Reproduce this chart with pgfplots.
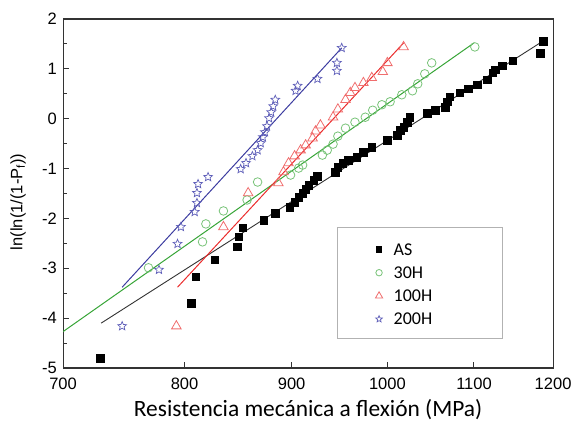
\documentclass[border=0pt]{standalone}
\usepackage{fontspec}
\usepackage{pgfplots}
\pgfplotsset{compat=1.18}
\setmainfont{Liberation Sans}
\newfontfamily\calibri{Carlito}

\definecolor{asline}{RGB}{50,50,50}
\definecolor{gmark}{RGB}{120,195,120}
\definecolor{gline}{RGB}{55,165,55}
\definecolor{rmark}{RGB}{240,110,110}
\definecolor{rline}{RGB}{235,45,45}
\definecolor{bmark}{RGB}{95,95,185}
\definecolor{bline}{RGB}{60,60,160}

% hollow five-point star
\pgfdeclareplotmark{ostar}{%
  \pgfpathmoveto{\pgfpointpolar{90}{\pgfplotmarksize}}%
  \pgfpathlineto{\pgfpointpolar{126}{0.45\pgfplotmarksize}}%
  \pgfpathlineto{\pgfpointpolar{162}{\pgfplotmarksize}}%
  \pgfpathlineto{\pgfpointpolar{198}{0.45\pgfplotmarksize}}%
  \pgfpathlineto{\pgfpointpolar{234}{\pgfplotmarksize}}%
  \pgfpathlineto{\pgfpointpolar{270}{0.45\pgfplotmarksize}}%
  \pgfpathlineto{\pgfpointpolar{306}{\pgfplotmarksize}}%
  \pgfpathlineto{\pgfpointpolar{342}{0.45\pgfplotmarksize}}%
  \pgfpathlineto{\pgfpointpolar{18}{\pgfplotmarksize}}%
  \pgfpathlineto{\pgfpointpolar{54}{0.45\pgfplotmarksize}}%
  \pgfpathclose
  \pgfusepathqstroke
}

\begin{document}
\begin{tikzpicture}
\begin{axis}[
    at={(0pt,0pt)}, anchor=south west,
    scale only axis, width=490pt, height=349pt,
    xmode=log, xmin=700, xmax=1200, ymin=-5, ymax=2,
    xtick={700,800,900,1000,1100,1200},
    xticklabels={700,800,900,1000,1100,1200},
    minor xtick={},
    ytick={-5,-4,-3,-2,-1,0,1,2},
    yticklabels={-5,-4,-3,-2,-1,0,1,2},
    minor ytick={-4.5,-3.5,-2.5,-1.5,-0.5,0.5,1.5},
    tick pos=left, tick align=inside,
    major tick length=6pt, minor tick length=4pt,
    axis line style={black!80, line width=1.1pt},
    tick style={black!80, line width=1pt},
    tick label style={font=\fontsize{16.5}{19}\selectfont, inner sep=1pt},
    xticklabel style={yshift=-9pt},
    yticklabel style={xshift=-5pt},
    xlabel={Resistencia mecánica a flexión (MPa)},
    xlabel style={at={([yshift=-49pt]axis description cs:0.5,0)}, anchor=base,
                  font=\calibri\fontsize{23.4}{27}\selectfont},
    ylabel={ln(ln(1/(1-P\textsubscript{f}))},
    ylabel style={at={([xshift=-45pt]axis description cs:0,0.476)}, anchor=center,
                  font=\fontsize{16.5}{19}\selectfont},
    legend style={at={(0.559,0.404)}, anchor=north west,
                  draw=black!30, line width=1pt, fill=white,
                  font=\calibri\fontsize{18}{21}\selectfont,
                  inner xsep=38pt, inner ysep=8.9pt, row sep=0pt,
                  nodes={inner xsep=3pt, inner ysep=2.65pt, text height=16.25pt, text depth=1.65pt},
                  /tikz/every odd column/.append style={column sep=8pt}},
    legend cell align=left,
    legend image post style={mark options={scale=0.75}, yshift=-1.5pt},
]
% AS
\addplot[only marks, mark=square*, mark size=3.8pt, black] coordinates {
  (729,-4.80) (806,-3.70) (810,-3.17) (827,-2.83) (848,-2.57) (849,-2.37)
  (853,-2.19) (873,-2.03) (884,-1.89) (898,-1.77) (903,-1.67) (907,-1.57)
  (911,-1.49) (914,-1.41) (917,-1.33) (922,-1.23) (926,-1.15) (944,-1.07)
  (947,-0.97) (952,-0.89) (958,-0.83) (967,-0.77) (974,-0.67) (983,-0.57)
  (1000,-0.43) (1011,-0.33) (1014,-0.23) (1018,-0.17) (1022,-0.07) (1025,0.03)
  (1045,0.11) (1054,0.17) (1066,0.23) (1068,0.34) (1071,0.44) (1083,0.52)
  (1093,0.60) (1104,0.68) (1116,0.78) (1123,0.92) (1126,0.98) (1135,1.06)
  (1148,1.16) (1183,1.32) (1187,1.56)
};
\addlegendentry{\makebox[68pt][l]{AS}}
% 30H
\addplot[only marks, mark=o, mark size=4.3pt, gmark, line width=0.8pt] coordinates {
  (769,-2.99) (816,-2.47) (819,-2.11) (835,-1.85) (857,-1.63) (867,-1.27)
  (899,-1.13) (907,-0.99) (911,-0.93) (931,-0.73) (936,-0.63) (942,-0.51)
  (947,-0.35) (955,-0.19) (965,-0.07) (976,0.03) (984,0.17) (994,0.28)
  (1003,0.34) (1016,0.48) (1028,0.56) (1034,0.70) (1042,0.90) (1050,1.12)
  (1101,1.44)
};
\addlegendentry{\makebox[68pt][l]{30H}}
% 100H
\addplot[only marks, mark=triangle, mark size=5.5pt, rmark, line width=0.8pt] coordinates {
  (793,-4.16) (835,-2.17) (858,-1.49) (887,-1.29) (892,-1.07) (897,-0.89)
  (903,-0.75) (909,-0.63) (914,-0.53) (921,-0.39) (924,-0.25) (929,-0.13)
  (942,0.03) (947,0.19) (955,0.38) (960,0.52) (965,0.62) (974,0.72)
  (983,0.82) (995,0.94) (1000,1.12) (1018,1.44)
};
\addlegendentry{\makebox[68pt][l]{100H}}
% 200H
\addplot[only marks, mark=ostar, mark size=4.6pt, bmark, line width=0.7pt] coordinates {
  (747,-4.16) (778,-3.03) (794,-2.51) (797,-2.17) (809,-1.87) (811,-1.69)
  (811,-1.49) (812,-1.31) (821,-1.17) (851,-1.01) (856,-0.89) (862,-0.75)
  (867,-0.63) (870,-0.49) (872,-0.37) (874,-0.27) (876,-0.15) (878,0.01)
  (880,0.13) (882,0.25) (884,0.38) (904,0.56) (906,0.66) (926,0.80)
  (946,0.96) (946,1.12) (951,1.42)
};
\addlegendentry{\makebox[68pt][l]{200H}}
% fitted lines
\addplot[asline, line width=0.9pt, forget plot] coordinates {(730,-4.10) (1187,1.56)};
\addplot[gline, line width=1pt, forget plot] coordinates {(700,-4.27) (1100,1.52)};
\addplot[rline, line width=1pt, forget plot] coordinates {(794,-3.38) (1018,1.52)};
\addplot[bline, line width=1pt, forget plot] coordinates {(747,-3.38) (951,1.42)};
\end{axis}
\pgfresetboundingbox
\path (-63pt,-60pt) rectangle (511pt,368pt);
\end{tikzpicture}
\end{document}
